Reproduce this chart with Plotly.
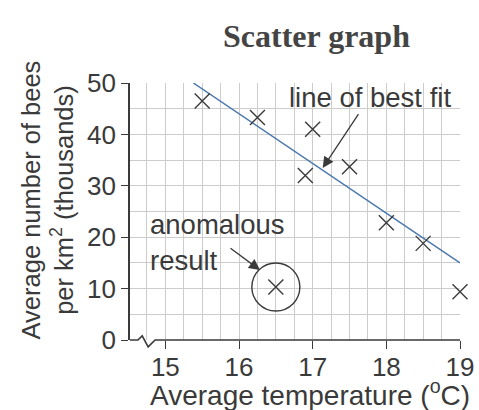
import plotly.graph_objects as go

# Survey data: mean temperature (°C) vs mean bee count per km² (thousands)
temps = [15.5, 16.25, 16.9, 17.0, 17.5, 18.0, 18.5, 19.0]
bees = [46.5, 43.3, 32.0, 41.0, 33.7, 22.8, 18.8, 9.4]

# The one reading that does not follow the trend
anomaly_temp = [16.5]
anomaly_bees = [10.3]

# Hand-drawn line of best fit (end points)
fit_temps = [15.38, 19.0]
fit_bees = [50.0, 15.0]

x_label_ticks = [15, 16, 17, 18, 19]
x_half_ticks = [15.5, 16.5, 17.5, 18.5]
y_tick_vals = [0, 10, 20, 30, 40, 50]
x_range = [14.52, 19]
y_range = [0, 50]

INK = "#3a3a3a"
GRID = "#cccccc"
FONT = "Liberation Sans"

fig = go.Figure()

fig.add_trace(go.Scatter(
    x=fit_temps, y=fit_bees, mode="lines",
    line=dict(color="#4a78ad", width=1.5),
    hoverinfo="skip", showlegend=False,
))

fig.add_trace(go.Scatter(
    x=temps + anomaly_temp, y=bees + anomaly_bees, mode="markers",
    marker=dict(symbol="x-thin", size=15, line=dict(color=INK, width=1.4)),
    cliponaxis=False, showlegend=False,
))

# circle around the anomalous result
fig.add_shape(
    type="circle", xref="x", yref="y",
    xsizemode="pixel", ysizemode="pixel",
    xanchor=anomaly_temp[0], yanchor=anomaly_bees[0],
    x0=-24, x1=24, y0=-24, y1=24,
    line=dict(color=INK, width=1.4),
)

# x axis line with a break near the origin
fig.add_shape(
    type="path", xref="paper", yref="paper",
    path="M 0,0 L 0.024,0 L 0.037,0.016 L 0.055,-0.027 L 0.076,0 L 1,0",
    line=dict(color=INK, width=1.6),
)

fig.update_layout(
    xaxis=dict(
        range=x_range, tickmode="array", tickvals=x_label_ticks, automargin=False,
        ticks="outside", ticklen=8, tickwidth=1.3, tickcolor=INK,
        ticklabelstandoff=-4,
        showgrid=True, gridcolor=GRID, gridwidth=1,
        minor=dict(dtick=0.25, tick0=0, showgrid=True, gridcolor=GRID,
                   gridwidth=1, ticks=""),
        showline=False, zeroline=False,
        tickfont=dict(family=FONT, size=26, color=INK),
    ),
    # unlabelled half-degree tick marks
    xaxis2=dict(
        range=x_range, overlaying="x", anchor="y", side="bottom",
        tickmode="array", tickvals=x_half_ticks, showticklabels=False,
        ticks="outside", ticklen=8, tickwidth=1.3, tickcolor=INK,
        showgrid=False, showline=False, zeroline=False, automargin=False,
    ),
    yaxis=dict(
        range=y_range, tickmode="array", tickvals=y_tick_vals, automargin=False,
        ticks="outside", ticklen=7, tickwidth=1.3, tickcolor=INK,
        showgrid=True, gridcolor=GRID, gridwidth=1,
        minor=dict(dtick=5, tick0=0, showgrid=True, gridcolor=GRID,
                   gridwidth=1, ticks=""),
        showline=True, linecolor=INK, linewidth=1.6, zeroline=False,
        tickfont=dict(family=FONT, size=26, color=INK),
    ),
)

text_font = dict(family=FONT, size=27.5, color=INK)
arrow_style = dict(showarrow=True, arrowhead=2, arrowsize=1.7, arrowwidth=1.3,
                   arrowcolor=INK, standoff=0, startstandoff=0)

annotations = [
    dict(text="<b>Scatter graph</b>", xref="paper", yref="paper",
         x=0.564, y=1.183, xanchor="center", yanchor="middle", showarrow=False,
         font=dict(family="Liberation Serif", size=32, color="#444444")),
    dict(text="Average temperature (<sup>o</sup>C)", xref="paper", yref="paper",
         x=0.544, y=-0.207, xanchor="center", yanchor="middle", showarrow=False,
         font=dict(family=FONT, size=28, color=INK)),
    dict(text="Average number of bees<br>per km<sup>2</sup> (thousands)",
         xref="paper", yref="paper", x=-0.25, y=0.545, textangle=-90,
         xanchor="center", yanchor="middle", showarrow=False,
         font=dict(family=FONT, size=25.5, color=INK)),
    # label with its arrow pointing at the fitted line
    dict(text="line of best fit", x=17.136, y=33.46, xref="x", yref="y",
         ax=47, ay=-71, font=text_font, **arrow_style),
    # two-line label for the circled point, plus its arrow
    dict(text="anomalous<br>result", xref="paper", yref="paper",
         x=0.055, y=0.38, xanchor="left", yanchor="middle", align="left",
         showarrow=False, font=text_font),
    dict(text="", x=16.285, y=13.6, xref="x", yref="y",
         ax=-31, ay=-23, **arrow_style),
]

fig.update_layout(
    width=479, height=410,
    margin=dict(l=130, r=19, t=83, b=70, autoexpand=False),
    paper_bgcolor="white", plot_bgcolor="white",
    annotations=annotations, showlegend=False,
)

fig.write_html("out.html")
